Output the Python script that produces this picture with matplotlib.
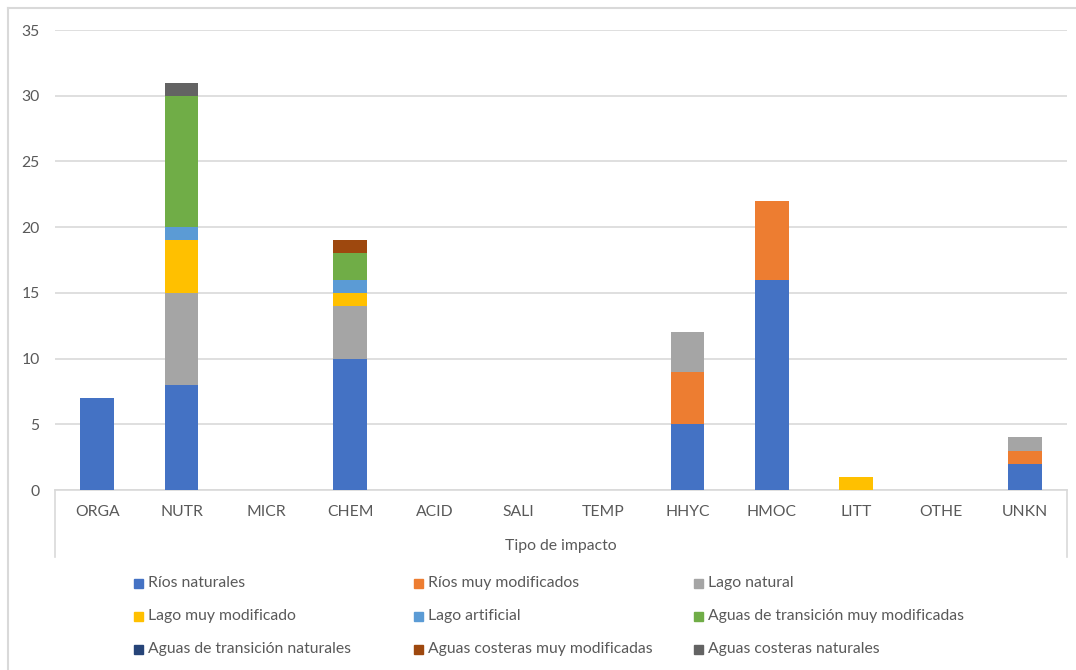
import numpy as np
import matplotlib.pyplot as plt
from matplotlib.lines import Line2D
from matplotlib.patches import Rectangle

plt.rcParams['font.family'] = ['Lato', 'DejaVu Sans']

tipos = ["ORGA", "NUTR", "MICR", "CHEM", "ACID", "SALI", "TEMP",
         "HHYC", "HMOC", "LITT", "OTHE", "UNKN"]

series = ["Ríos naturales", "Ríos muy modificados", "Lago natural",
          "Lago muy modificado", "Lago artificial",
          "Aguas de transición muy modificadas",
          "Aguas de transición naturales",
          "Aguas costeras muy modificadas", "Aguas costeras naturales"]

colores = ["#4472C4", "#ED7D31", "#A5A5A5", "#FFC000", "#5B9BD5",
           "#70AD47", "#264478", "#9E480E", "#636363"]

#                          ORGA NUTR MICR CHEM ACID SALI TEMP HHYC HMOC LITT OTHE UNKN
rios_naturales     = [7, 8, 0, 10, 0, 0, 0, 5, 16, 0, 0, 2]
rios_modificados   = [0, 0, 0, 0, 0, 0, 0, 4, 6, 0, 0, 1]
lago_natural       = [0, 7, 0, 4, 0, 0, 0, 3, 0, 0, 0, 1]
lago_modificado    = [0, 4, 0, 1, 0, 0, 0, 0, 0, 1, 0, 0]
lago_artificial    = [0, 1, 0, 1, 0, 0, 0, 0, 0, 0, 0, 0]
transicion_modif   = [0, 10, 0, 2, 0, 0, 0, 0, 0, 0, 0, 0]
transicion_natural = [0, 0, 0, 0, 0, 0, 0, 0, 0, 0, 0, 0]
costeras_modif     = [0, 0, 0, 1, 0, 0, 0, 0, 0, 0, 0, 0]
costeras_naturales = [0, 1, 0, 0, 0, 0, 0, 0, 0, 0, 0, 0]

valores = [rios_naturales, rios_modificados, lago_natural, lago_modificado,
           lago_artificial, transicion_modif, transicion_natural,
           costeras_modif, costeras_naturales]

gris_texto = "#595959"
gris_linea = "#D9D9D9"
tam = 11.3

W, H = 1076, 670
fig = plt.figure(figsize=(W / 100, H / 100), dpi=100)
ax = fig.add_axes([55 / W, 1 - 490 / H, (1067 - 55) / W, 460 / H])

x = np.arange(len(tipos))
base = np.zeros(len(tipos))
for nombre, col, vals in zip(series, colores, valores):
    vals = np.array(vals, dtype=float)
    ax.bar(x, vals, bottom=base, width=0.4, color=col, label=nombre, zorder=3)
    base += vals

ax.set_xlim(-0.5, len(tipos) - 0.5)
ax.set_ylim(0, 35)
ax.set_yticks(range(0, 36, 5))
ax.grid(axis='y', color=gris_linea, linewidth=1.2, zorder=0)
ax.set_xticks(x)
ax.set_xticklabels(tipos)
ax.tick_params(axis='both', length=0, colors=gris_texto, labelsize=tam)
ax.tick_params(axis='y', pad=11)
ax.tick_params(axis='x', pad=11)
for lado in ['top', 'right', 'left']:
    ax.spines[lado].set_visible(False)
ax.spines['bottom'].set_color(gris_linea)
ax.spines['bottom'].set_linewidth(1.2)

# caja del eje de categorías
for xa in (0, 1):
    ax.add_line(Line2D([xa, xa], [0, -67 / 460], transform=ax.transAxes,
                       color=gris_linea, linewidth=1.2, clip_on=False))

fig.text(561 / W, 1 - 546 / H, "Tipo de impacto", ha='center', va='center',
         color=gris_texto, fontsize=tam)

# leyenda en tres columnas, ordenada por filas
for i, (nombre, col) in enumerate(zip(series, colores)):
    fila, columna = divmod(i, 3)
    xm = 134 + columna * 280
    ym = 583 + fila * 33
    fig.patches.append(Rectangle((xm / W, 1 - (ym + 4.5) / H), 9 / W, 9 / H,
                                 transform=fig.transFigure, color=col))
    fig.text((xm + 14) / W, 1 - ym / H, nombre, ha='left', va='center',
             color=gris_texto, fontsize=tam)

# borde exterior del gráfico
fig.add_artist(Line2D([8 / W, 1], [1 - 8 / H, 1 - 8 / H], color=gris_linea,
                      linewidth=1.5, transform=fig.transFigure))
fig.add_artist(Line2D([8 / W, 8 / W], [0, 1 - 8 / H], color=gris_linea,
                      linewidth=1.5, transform=fig.transFigure))

fig.savefig("out.png", dpi=100, facecolor='white')
